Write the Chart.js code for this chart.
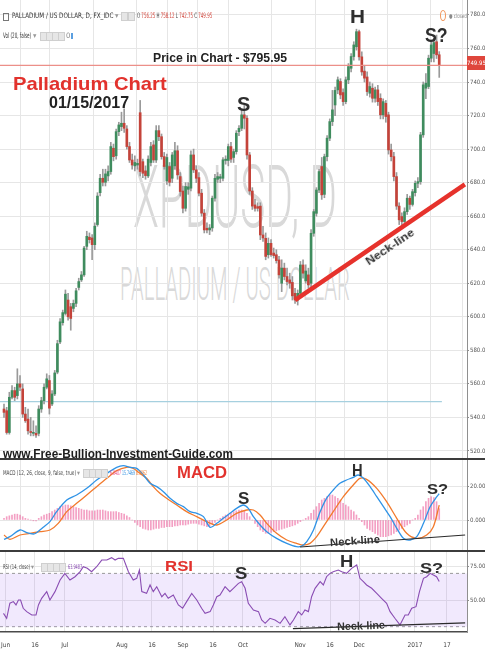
<!DOCTYPE html>
<html lang="en">
<head>
<meta charset="utf-8">
<title>Palladium Chart</title>
<script src="https://cdn.jsdelivr.net/npm/chart.js@4.4.1/dist/chart.umd.min.js"></script>
<style>
  html, body { margin: 0; padding: 0; background: #fff; }
  #board { position: relative; width: 485px; height: 650px; overflow: hidden; background: #fff;
           font-family: "Liberation Sans", Arial, Helvetica, sans-serif; }
  canvas { position: absolute; left: 0; z-index: 1; }
  .wm { position: absolute; z-index: 0; color: #d9d9d9; font-family: Roboto, "Liberation Sans", sans-serif;
        font-weight: 300; line-height: 1; white-space: nowrap; transform-origin: 0 0; }
  .lbl { position: absolute; z-index: 2; white-space: nowrap; line-height: 1; font-weight: bold;
         transform-origin: 0 0; color: #2e2e2e; }
  .rot { transform-origin: 50% 50%; }
  .small { position: absolute; z-index: 2; white-space: nowrap; line-height: 1; font-size: 7.5px; color: #444;
           font-family: "Liberation Sans Narrow", "DejaVu Sans Condensed", "Liberation Sans", sans-serif;
           transform-origin: 0 0; }
  .box { position: absolute; z-index: 2; width: 5px; height: 7px; background: #e6e6e6; border: 1px solid #cfcfcf; }
  .rule { position: absolute; z-index: 3; left: 0; width: 485px; background: #3c3c3c; }
  .r { color: #d2453b; }
  .title { color: #e2322d; }
</style>
</head>
<body>
<div id="board">
  <!-- symbol watermark behind the price panel -->
  <div class="wm" data-w="204" style="left:133px;top:153px;font-size:88px;">XPDUSD, D</div>
  <div class="wm" data-w="230" style="left:120px;top:261px;font-size:46px;">PALLADIUM / US DOLLAR</div>

  <canvas id="priceCanvas" width="485" height="459" style="top:0;width:485px;height:459px"></canvas>
  <canvas id="macdCanvas" width="485" height="92" style="top:459px;width:485px;height:92px"></canvas>
  <canvas id="rsiCanvas" width="485" height="99" style="top:551px;width:485px;height:99px"></canvas>

  <div class="rule" style="top:458px;height:2px"></div>
  <div class="rule" style="top:550px;height:2px"></div>

  <!-- symbol legend -->
  <div class="small" style="left:3px;top:13px;width:4px;height:6px;border:1px solid #777"></div>
  <div class="small" data-w="101" style="left:12px;top:12px;color:#333">PALLADIUM / US DOLLAR, D, FX_IDC</div>
  <div class="small" style="left:115px;top:12px;color:#999">▾</div>
  <div class="box" style="left:121px;top:12px"></div>
  <div class="box" style="left:128px;top:12px"></div>
  <div class="small" data-w="75" style="left:137px;top:12px">O <span class="r">756.25</span> H <span class="r">758.12</span> L <span class="r">742.75</span> C <span class="r">749.95</span></div>

  <div class="small" data-w="28" style="left:3px;top:32px;color:#333">Vol (20, false)</div>
  <div class="small" style="left:33px;top:32px;color:#999">▾</div>
  <div class="box" style="left:40px;top:32px"></div>
  <div class="box" style="left:46px;top:32px"></div>
  <div class="box" style="left:52px;top:32px"></div>
  <div class="box" style="left:58px;top:32px"></div>
  <div class="small" style="left:66px;top:32px;color:#888">0</div>
  <div class="small" style="left:71px;top:33px;width:2px;height:6px;background:#5b9fe0"></div>

  <div class="small" style="left:440px;top:10px;width:4px;height:9px;border:1px solid #f0955a;border-radius:50%"></div>
  <div class="small" data-w="18" style="left:449px;top:13px;font-size:6px;color:#8a8a8a">● closed</div>
  <div class="small" style="left:467px;top:56px;width:18px;height:14px;background:#df463c;color:#fff;font-size:6px;line-height:14px;text-align:center">749.95</div>

  <!-- price panel notes -->
  <div class="lbl" data-w="134" style="left:153px;top:51px;font-size:13px;color:#222">Price in Chart - $795.95</div>
  <div class="lbl title" data-w="154" style="left:13px;top:74px;font-size:19px">Palladium Chart</div>
  <div class="lbl" data-w="80" style="left:49px;top:95px;font-size:16px;color:#222">01/15/2017</div>
  <div class="lbl" data-w="13" style="left:237px;top:94px;font-size:20px">S</div>
  <div class="lbl" data-w="15" style="left:350px;top:8px;font-size:18px">H</div>
  <div class="lbl" data-w="23" style="left:425px;top:25px;font-size:20px">S?</div>
  <div class="lbl rot" data-w="56" data-rot="-34" style="left:390px;top:247px;font-size:11px;color:#333">Neck-line</div>
  <div class="lbl" data-w="230" style="left:3px;top:448px;font-size:12.5px;color:#1c1c1c">www.Free-Bullion-Investment-Guide.com</div>

  <!-- MACD panel notes -->
  <div class="small" data-w="73" style="left:3px;top:470px;font-size:6.5px;color:#444">MACD (12, 26, close, 9, false, true)</div>
  <div class="small" style="left:77px;top:470px;font-size:6.5px;color:#999">▾</div>
  <div class="box" style="left:83px;top:469px"></div>
  <div class="box" style="left:89px;top:469px"></div>
  <div class="box" style="left:95px;top:469px"></div>
  <div class="box" style="left:101px;top:469px"></div>
  <div class="small" data-w="37" style="left:110px;top:470px;font-size:6.5px"><span style="color:#e8508e">6.8407</span> <span style="color:#2f8fe0">15.7469</span> <span style="color:#f07a2e">8.9062</span></div>
  <div class="lbl title" data-w="50" style="left:177px;top:465px;font-size:16px">MACD</div>
  <div class="lbl" data-w="11" style="left:238px;top:490px;font-size:17px">S</div>
  <div class="lbl" data-w="11" style="left:352px;top:463px;font-size:16px">H</div>
  <div class="lbl" data-w="21" style="left:427px;top:481px;font-size:15px">S?</div>
  <div class="lbl rot" data-w="50" data-rot="-4" style="left:355px;top:541px;font-size:11px;color:#333">Neck-line</div>

  <!-- RSI panel notes -->
  <div class="small" data-w="27" style="left:3px;top:564px;font-size:6.5px;color:#444">RSI (14, close)</div>
  <div class="small" style="left:31px;top:564px;font-size:6.5px;color:#999">▾</div>
  <div class="box" style="left:41px;top:563px"></div>
  <div class="box" style="left:47px;top:563px"></div>
  <div class="box" style="left:53px;top:563px"></div>
  <div class="box" style="left:59px;top:563px"></div>
  <div class="small" data-w="14" style="left:68px;top:564px;font-size:6.5px;color:#8a4db3">63.9487</div>
  <div class="lbl title" data-w="28" style="left:165px;top:558px;font-size:15px">RSI</div>
  <div class="lbl" data-w="12" style="left:235px;top:565px;font-size:17px">S</div>
  <div class="lbl" data-w="13" style="left:340px;top:553px;font-size:17px">H</div>
  <div class="lbl" data-w="23" style="left:420px;top:560px;font-size:15px">S?</div>
  <div class="lbl rot" data-w="48" data-rot="-2" style="left:361px;top:626px;font-size:11px;color:#333">Neck-line</div>
</div>

<script>
// Daily XPD/USD candles, 31 May 2016 – 13 Jan 2017 (one entry per trading day)
const opens = [
  545, 544, 531, 552, 556, 553, 560, 557, 542, 539,
  531.5, 530.5, 530.5, 530.5, 545, 550, 558, 562, 548, 554,
  567, 585, 596.5, 602, 610, 606, 605, 608, 617.5, 622,
  625, 642, 647.5, 647, 643, 655, 674, 682.6, 680.2, 684,
  686.6, 700.5, 696, 710.4, 713.4, 715.4, 712, 701.5, 693.5, 690,
  690.5, 721.7, 692.5, 687, 684, 692, 702.5, 693.5, 711, 707.4,
  695.5, 681, 689.6, 682.6, 690, 699, 683.6, 675, 664.7, 676,
  676.7, 696.5, 687.6, 683, 673.7, 661.8, 652.8, 651.8, 653, 670.7,
  682, 682.6, 682.6, 693.2, 693.2, 701.5, 695, 698.5, 710.4, 712.4,
  720.4, 718.4, 696.5, 675, 666.7, 665.7, 666, 648.8, 646.8, 637,
  643.8, 638, 637, 633.9, 620, 629, 624, 622, 620.5, 614,
  610, 614, 630.9, 621.4, 625, 620, 649.8, 661.7, 675.6, 689.6,
  673, 695.5, 706.5, 716.4, 726.3, 735.3, 740.3, 733.7, 728.3, 741.3,
  748.2, 755.2, 761, 770, 755, 746.5, 743, 733.3, 736.3, 730.3,
  735.3, 730.3, 720.4, 727.3, 720.4, 699.5, 695.5, 683.6, 666, 659.8,
  656.8, 662.7, 670.7, 667, 674, 679.6, 680.6, 708.5, 736.3, 737.3,
  754.2, 757, 764, 756.25
];
const highs = [
  548, 546, 555, 559, 558, 569, 565, 560, 546, 545,
  540, 538, 535, 547, 552, 560, 566, 565, 556, 568,
  586, 599, 604, 616, 614, 608, 610, 617, 623, 627,
  642, 651, 650, 649, 656, 674, 685, 688, 688, 690,
  704, 703, 712, 716, 722, 724, 714, 704, 697, 696,
  694, 729, 694, 690, 696, 704, 705, 714, 714, 709,
  698, 697, 692, 698, 704, 702, 686, 678, 680, 680,
  699, 700, 690, 686, 676, 664, 656, 655, 672, 685,
  686, 685, 695, 696, 703, 704, 700, 711, 714, 723,
  727, 720, 698, 677, 670, 668, 668, 654, 650, 647,
  646, 641, 640, 636, 634, 632, 629, 626, 624, 617,
  616, 633, 634, 631, 629, 652, 664, 677, 688, 695,
  697, 708, 718, 735, 737, 743, 742, 736, 743, 751,
  757, 764, 771.5, 771, 758, 750, 746, 740, 739, 737,
  738, 733, 730, 729, 722, 703, 698, 686, 668, 662,
  665, 673, 672, 676, 681, 683, 710, 740, 745, 756,
  764, 766, 768, 758.12
];
const lows = [
  540, 530, 530, 551, 550, 551, 556, 540, 537, 530,
  529, 529, 528, 529, 543, 548, 557, 542, 547, 553,
  566, 584, 595, 601, 598, 592, 603, 606, 616, 621,
  624, 640, 644, 634, 640, 654, 672, 678, 678, 681,
  685, 693, 694, 708, 711, 710, 700, 692, 688, 687,
  688, 684, 683, 682, 683, 690, 692, 692, 705, 694,
  688, 679, 678, 680, 688, 682, 672, 662, 663, 673,
  675, 686, 680, 672, 660, 650, 650, 649, 651, 669,
  680, 680, 681, 691, 690, 692, 692, 697, 708, 711,
  712, 694, 673, 664, 663, 663, 646, 645, 634, 635,
  636, 635, 632, 623, 615, 622, 619, 617, 610, 608,
  607, 612, 623, 620, 617, 618, 648, 660, 674, 670,
  671, 693, 705, 714, 720, 733, 730, 726, 727, 739,
  746, 753, 759, 753, 744, 740, 732, 731, 728, 728,
  726, 718, 718, 716, 697, 693, 681, 664, 655, 654,
  655, 661, 664, 666, 672, 677, 679, 707, 730, 736,
  752, 752, 754, 742.75
];
const closes = [
  543, 531, 552, 556, 552, 560, 558, 542, 538, 532,
  531, 531, 529.5, 545, 550, 558, 563, 545.5, 554, 566.5,
  584, 597, 602.5, 613.5, 600, 599, 608, 615.5, 621, 625,
  641, 648, 646, 643, 654, 672, 682.6, 680.2, 685.2, 686.6,
  701.5, 695.5, 710.4, 714.4, 715.4, 712.4, 701.5, 693.5, 690.5, 692,
  691.5, 686.6, 685.6, 684.2, 694, 701.5, 693.5, 711, 707.4, 695.5,
  689.6, 695, 680.2, 696.5, 699, 684.6, 674.7, 664.7, 677.7, 677.5,
  696.5, 687.6, 682.6, 673.7, 661.8, 651.8, 651.8, 653, 670.7, 682.6,
  683.6, 683.5, 693.6, 694, 701.5, 694, 698.5, 709.5, 712.4, 720.4,
  718.4, 696.5, 675, 666, 664.7, 664.7, 648.8, 647, 636, 643.8,
  637, 636.5, 633.5, 625, 629, 624, 621, 620, 612.5, 610,
  614, 630.9, 626, 627.3, 619, 649.8, 662.7, 675.6, 686.6, 672.7,
  695.5, 706.5, 716.4, 723.4, 735, 741.3, 732.3, 728.3, 741.3, 749.2,
  755.2, 762.1, 770, 755, 746, 742.3, 734.3, 737.3, 730.3, 735.3,
  728.3, 720.4, 728.3, 719.4, 699.5, 695.5, 683.6, 666, 657.8, 656.8,
  662.7, 670.7, 667, 674.6, 679.6, 680.6, 708.5, 738.3, 739.3, 754.2,
  762.1, 763.5, 756.2, 749.95
];

// MACD histogram, one bar per trading day
const macdHist = [
  1, 2, 2.5, 3, 3.5, 3.5,
  3, 2, 1, 0.5, 0, -0.5, -0.5,
  1, 2, 3, 3.5, 4, 5, 6,
  7, 8, 8.5, 9, 9, 8.5, 8,
  7.5, 7, 6.5, 6, 6, 5.5, 5.5,
  5.5, 6, 6, 6, 5.5, 5, 5,
  5, 5, 4.5, 4, 3.5, 2.5, 1.5,
  0, -1.5, -3, -4, -5, -5.5, -6,
  -6, -5.5, -5, -5, -4.5, -4.5, -4,
  -4, -4, -3.5, -3.5, -3, -3, -3,
  -2.5, -2, -2, -2, -2.5, -3, -3.5,
  -4, -3.5, -2.5, -1.5, 0, 1, 2,
  3, 3.5, 4, 5, 5.5, 6, 6,
  5.5, 4, 2, 0, -2, -4, -6,
  -7, -8, -8, -7.5, -7, -6.5, -6,
  -5.5, -5, -4.5, -4, -3.5, -3, -2,
  -1, 0, 1, 2, 4, 6, 8,
  10, 12, 13, 14, 15, 15, 14,
  13, 12, 10, 9, 8, 6, 5,
  3, 1, -1, -3, -5, -6, -7,
  -8, -9, -10, -10, -10, -9.5, -9,
  -8, -7, -6, -5, -4, -3, -2,
  0, 1, 3, 6, 8, 11, 13,
  14, 13.5, 11, 6.8407
];

// MACD line and signal line (day position, value)
const macdX = [0, 2.2, 6, 8.5, 11, 12.2, 14.7, 17.2, 19.7, 23.5, 27.2, 31, 34.7, 38.5, 42.2, 44.7, 47.2, 49.7, 52.2, 54.7,
  57.2, 59.7, 62.2, 64.7, 67.2, 69.7, 72.2, 74.7, 77.2, 79.7, 82.1, 84.6, 87.1, 89.6, 91.5, 93.4, 95.9, 98.4, 102.1, 105.9,
  109.6, 111.5, 113.4, 115.9, 118.4, 120.8, 123.3, 125.8, 128.3, 130.8, 132.7, 134.6, 137.1, 139.6, 142.1, 144.6, 147.1, 149.6, 152.1, 154.6,
  157.1, 159.6, 162.1, 163];
const macdVals = [-11.6, -10, -6, -7.6, -8.4, -7.6, -4.4, -1, 5, 12, 15, 19, 24, 28, 31.6, 32.6, 31.6, 31, 27, 22,
  20, 17, 13, 10, 8, 5, 4, 2, -4.4, -2, 1, 4, 7, 9, 7, 2, -3, -7, -11, -14,
  -16, -15.6, -13, -6, 5, 13, 18, 22, 24, 25.6, 27, 25, 20, 14, 8, 2, -5, -11, -12, -10,
  -2, 8, 14, 15.7469];
const signalX = [0, 2.2, 6, 9.7, 13.5, 17.2, 20.3, 23.5, 27.2, 31, 34.7, 38.5, 42.2, 45.9, 48.4, 50.9, 53.4, 55.9, 58.4, 60.9,
  64.7, 68.4, 72.2, 75.9, 79.7, 83.4, 87.1, 90.9, 93.4, 95.9, 98.4, 102.1, 105.9, 109.6, 112.1, 114.6, 117.1, 119.6, 123.3, 127.1,
  130.8, 133.3, 135.8, 139.6, 143.3, 147.1, 150.8, 154.6, 158.3, 160.8, 163];
const signalVals = [-9, -11.6, -9, -8, -7, -6, -2, 5, 10, 15, 20, 25, 29.6, 31.6, 31, 28, 25, 20, 16, 13,
  9, 5, 2, -1, -3, 0, 4, 6, 6, 3, -2, -8, -12, -14, -15, -14, -10, -4, 5, 14,
  21, 25, 24.4, 19, 11, 1, -8, -11, -9, -4, 8.9062];

// RSI(14) (day position, value)
const rsiX = [-0.2, 1, 2.2, 3.5, 4.5, 5.4, 6.2, 7.2, 8.5, 10.4,
  12, 12.9, 14.1, 16, 17.2, 19.1, 21, 22.8, 24.7, 26.6,
  28.5, 29.7, 31.2, 32.8, 34.7, 36.6, 38.5, 40.3, 41.6, 42.8,
  44.7, 46.6, 48.4, 49.7, 50.7, 51.6, 53.4, 54.7, 55.9, 57.2,
  59.1, 60.3, 61.5, 63.4, 65.3, 66.9, 68.4, 70.3, 72.2, 74,
  75.3, 77.2, 78.4, 79.7, 80.9, 82.8, 84.6, 85.9, 87.8, 89,
  90.3, 91.5, 93.4, 95.3, 96.5, 97.8, 99.6, 101.5, 103.4, 105.2,
  107.1, 108.4, 110.2, 111.5, 112.7, 114, 115.2, 116.5, 118.4, 119.6,
  120.8, 122.1, 123.3, 125.2, 126.5, 128.3, 130.2, 132.1, 133.3, 134.6,
  135.8, 137.7, 139.6, 141.4, 143.3, 144.6, 146.4, 148.3, 150.2, 151.4,
  152.7, 154.3, 155.6, 157.1, 158.3, 159.6, 160.8, 162, 163];
const rsiVals = [40, 36.3, 47.6, 48.8, 46.3, 50, 50, 43.8, 41.3, 38.8,
  38.8, 46.3, 51.3, 56.3, 50, 56.3, 65, 70, 65, 67.5,
  71.3, 75, 73.8, 71.3, 75, 80, 80, 81.8, 80, 81.3,
  81.3, 71.3, 65, 66.3, 72.5, 56.3, 55, 61.3, 56.3, 60,
  52.5, 55, 51.3, 53.8, 46.3, 43.8, 48.8, 55, 50, 43.8,
  40, 41.3, 46.3, 52.5, 53.8, 60, 56.3, 58.8, 62.5, 63.8,
  58.8, 47.5, 42.5, 41.3, 35, 32.5, 36.3, 35, 32.5, 37.5,
  31.3, 35, 41.3, 38.8, 42.5, 41.3, 52.5, 58.8, 63.8, 61.3,
  67.5, 70, 71.3, 72.5, 71.3, 70, 73.8, 76.3, 66.3, 63.8,
  61.3, 58.8, 55, 51.3, 47.5, 41.3, 36.3, 31.3, 38.8, 38.8,
  43.8, 45, 56.3, 66.3, 67.5, 70, 68.8, 67.5, 63.9487];

// Hand-drawn neck-lines (day position, value) and reference levels
const neckX = [109, 172.6];
const neckPrice = [610, 679];
const macdNeckX = [110.9, 172.7];
const macdNeckVals = [-16.2, -9];
const rsiNeckX = [108.2, 172.7];
const rsiNeckVals = [28.6, 32.8];
const supportLevel = 549.4;
const supportEnd = 164;
const rsiBands = [70, 30];

// Axis ticks
const dateTickPos = [0.6, 11.6, 22.8, 44.2, 55.4, 67, 78.3, 89.5, 110.9, 122.1, 133, 153.9, 165.9];
const dateTickLabels = ['Jun', '16', 'Jul', 'Aug', '16', 'Sep', '16', 'Oct', 'Nov', '16', 'Dec', '2017', '17'];
const priceTicks = [520, 540, 560, 580, 600, 620, 640, 660, 680, 700, 720, 740, 760, 780];
const macdTicks = [0, 20];
const rsiTicks = [50, 75];

// ---- shared layout ----
const X_MIN = -1.5, X_MAX = 173.4;
const NARROW = '"Liberation Sans Narrow", "DejaVu Sans Condensed", "Liberation Sans", sans-serif';
const GRID = '#e6e6e6';
const UP = '#3f8c5e', DOWN = '#c4433a';

function toPoints(xs, ys) { return xs.map((x, i) => ({ x, y: ys[i] })); }
function levelLine(y, x0, x1) { return [{ x: x0, y }, { x: x1, y }]; }

function dayAxis(showLabels) {
  return {
    type: 'linear', min: X_MIN, max: X_MAX, offset: false, bounds: 'data',
    afterBuildTicks: s => { s.ticks = dateTickPos.map(v => ({ value: v })); },
    afterFit: s => { s.paddingLeft = 0; s.paddingRight = 0; s.height = showLabels ? 18 : 0; },
    ticks: {
      display: showLabels, autoSkip: false, maxRotation: 0, minRotation: 0, padding: 9,
      font: { family: NARROW, size: 6.5 }, color: '#444',
      callback: (v, i) => dateTickLabels[i]
    },
    grid: { color: GRID, drawTicks: false },
    border: { display: showLabels, color: '#4a4a4a', width: 1.5 }
  };
}

function valueAxis(min, max, ticks, digits) {
  return {
    type: 'linear', position: 'right', min, max, bounds: 'data',
    afterBuildTicks: s => { s.ticks = ticks.map(v => ({ value: v })); },
    afterFit: s => { s.width = 18; s.paddingTop = 0; s.paddingBottom = 0; },
    ticks: {
      autoSkip: false, padding: 1, font: { family: NARROW, size: 6 }, color: '#555',
      callback: v => Number(v).toFixed(digits)
    },
    grid: { color: GRID, tickLength: 2, tickColor: '#8a8a8a' },
    border: { color: '#8f8f8f', width: 1 }
  };
}

const baseOptions = {
  responsive: false, animation: false, devicePixelRatio: 1, events: [],
  layout: { padding: 0 },
  plugins: { legend: { display: false }, tooltip: { enabled: false } }
};

// ---- price panel ----
const days = closes.map((_, i) => i);
new Chart(document.getElementById('priceCanvas'), {
  type: 'bar',
  data: {
    datasets: [
      { type: 'line', data: toPoints(neckX, neckPrice), borderColor: '#e6322c', borderWidth: 4.5,
        pointRadius: 0, order: 1 },
      { type: 'line', data: levelLine(closes[closes.length - 1], X_MIN, X_MAX), borderColor: '#ec8f89',
        borderWidth: 1.3, pointRadius: 0, order: 2 },
      { type: 'bar', data: days.map(i => ({ x: i, y: [opens[i], closes[i]] })),
        backgroundColor: days.map(i => closes[i] >= opens[i] ? UP : DOWN),
        barThickness: 2, minBarLength: 1, grouped: false, order: 3 },
      { type: 'bar', data: days.map(i => ({ x: i, y: [lows[i], highs[i]] })),
        backgroundColor: '#9a9a9a', barThickness: 1, grouped: false, order: 4 },
      { type: 'line', data: levelLine(supportLevel, X_MIN, supportEnd), borderColor: '#a6d0df',
        borderWidth: 1.2, pointRadius: 0, order: 5 }
    ]
  },
  options: Object.assign({}, baseOptions, {
    scales: { x: dayAxis(false), y: valueAxis(515.2, 788.9, priceTicks, 2) }
  })
});

// ---- MACD panel ----
new Chart(document.getElementById('macdCanvas'), {
  type: 'bar',
  data: {
    datasets: [
      { type: 'line', data: toPoints(macdNeckX, macdNeckVals), borderColor: '#2b2b2b', borderWidth: 1.2,
        pointRadius: 0, order: 1 },
      { type: 'line', data: toPoints(macdX, macdVals), borderColor: '#2f93e6', borderWidth: 1.3,
        pointRadius: 0, tension: 0.3, order: 2 },
      { type: 'line', data: toPoints(signalX, signalVals), borderColor: '#f27a2c', borderWidth: 1.3,
        pointRadius: 0, tension: 0.3, order: 3 },
      { type: 'bar', data: days.map(i => ({ x: i, y: macdHist[i] })), backgroundColor: 'rgba(234, 80, 145, 0.55)',
        barThickness: 1, grouped: false, order: 4 }
    ]
  },
  options: Object.assign({}, baseOptions, {
    scales: { x: dayAxis(false), y: valueAxis(-18.6, 36.6, macdTicks, 4) }
  })
});

// ---- RSI panel ----
new Chart(document.getElementById('rsiCanvas'), {
  type: 'line',
  data: {
    datasets: [
      { data: toPoints(rsiNeckX, rsiNeckVals), borderColor: '#2b2b2b', borderWidth: 1.2, pointRadius: 0, order: 1 },
      { data: toPoints(rsiX, rsiVals), borderColor: '#8a4db3', borderWidth: 1.1, pointRadius: 0, order: 2 },
      { data: levelLine(rsiBands[0], X_MIN, X_MAX), borderColor: '#9a9a9a', borderWidth: 1, borderDash: [3, 3],
        pointRadius: 0, fill: '+1', backgroundColor: 'rgba(160, 110, 240, 0.15)', order: 3 },
      { data: levelLine(rsiBands[1], X_MIN, X_MAX), borderColor: '#9a9a9a', borderWidth: 1, borderDash: [3, 3],
        pointRadius: 0, fill: false, order: 4 }
    ]
  },
  options: Object.assign({}, baseOptions, {
    scales: { x: dayAxis(true), y: valueAxis(26, 86.8, rsiTicks, 4) }
  })
});

// Squeeze each note to its measured width
function fitLabels() {
  document.querySelectorAll('[data-w]').forEach(el => {
    const target = parseFloat(el.dataset.w);
    const base = el.dataset.rot !== undefined ? `translate(-50%, -50%) rotate(${el.dataset.rot}deg) ` : '';
    el.style.transform = base;
    const natural = el.offsetWidth;
    if (natural > 0) el.style.transform = base + `scaleX(${(target / natural).toFixed(4)})`;
  });
}
fitLabels();
if (document.fonts && document.fonts.ready) document.fonts.ready.then(fitLabels);
</script>
</body>
</html>
